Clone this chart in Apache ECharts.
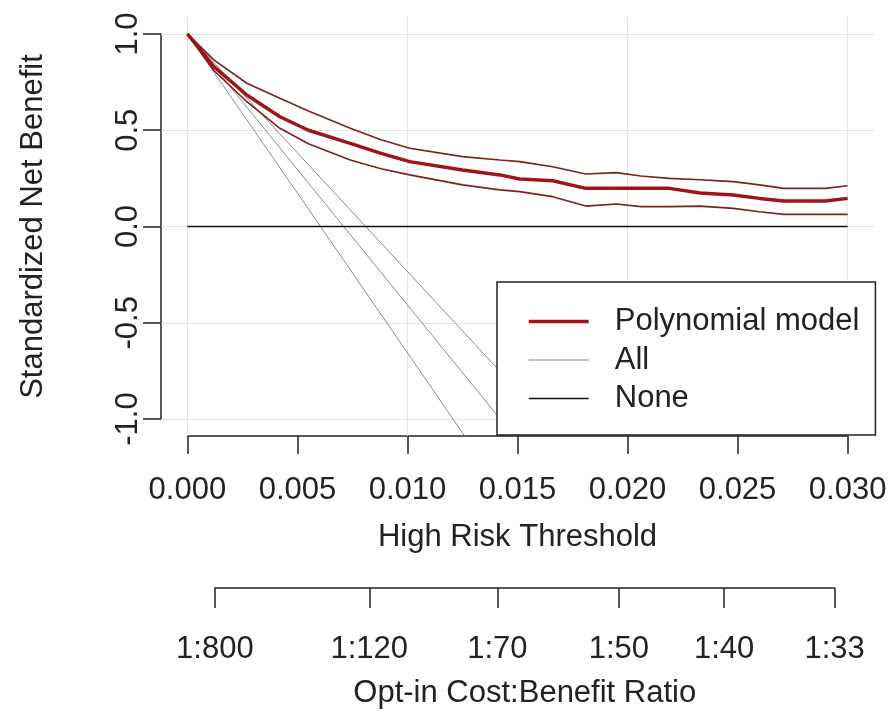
<!DOCTYPE html>
<html>
<head>
<meta charset="utf-8">
<script src="https://cdn.jsdelivr.net/npm/echarts@6/dist/echarts.min.js"></script>
<style>
  html, body { margin: 0; padding: 0; background: #fff; }
  #chart { width: 891px; height: 713px; }
</style>
</head>
<body>
<div id="chart"></div>
<script>
// high risk thresholds where the model curves were read
var thresholds = [0, 0.0012, 0.0027, 0.0042, 0.0055, 0.0074, 0.0088, 0.0101, 0.0125, 0.0142, 0.0151,
  0.0166, 0.0181, 0.0195, 0.0206, 0.0219, 0.0233, 0.0248, 0.0260, 0.0271, 0.0290, 0.0300];
// polynomial model: standardized net benefit + CI
var polyNB = [1.0, 0.83, 0.683, 0.57, 0.50, 0.432, 0.38, 0.337, 0.293, 0.268, 0.247,
  0.238, 0.198, 0.198, 0.198, 0.198, 0.174, 0.164, 0.146, 0.132, 0.132, 0.146];
var polyUpper = [1.0, 0.865, 0.744, 0.666, 0.60, 0.51, 0.45, 0.406, 0.363, 0.345, 0.337,
  0.31, 0.273, 0.28, 0.262, 0.25, 0.243, 0.233, 0.216, 0.198, 0.198, 0.212];
var polyLower = [1.0, 0.81, 0.648, 0.51, 0.43, 0.345, 0.30, 0.268, 0.216, 0.19, 0.181,
  0.155, 0.106, 0.117, 0.103, 0.103, 0.106, 0.094, 0.077, 0.063, 0.063, 0.063];

// treat all (estimate + CI), straight lines
var allLowX = [0, 0.00605, 0.0126];
var allLowY = [1, 0, -1.088];
var allMidX = [0, 0.0071, 0.0145];
var allMidY = [1, 0, -1.04];
var allUpX = [0, 0.0081, 0.0150];
var allUpY = [1, 0, -0.85];

// treat none
var noneX = [0, 0.03];
var noneY = [0, 0];

// axis ticks
var xTicks = [0, 0.005, 0.010, 0.015, 0.020, 0.025, 0.030];
var yTicks = [-1, -0.5, 0, 0.5, 1];
var ratioN = [800, 120, 70, 50, 40, 33];
var ratioLabels = ['1:800', '1:120', '1:70', '1:50', '1:40', '1:33'];
var ratioX = ratioN.map(function (n) { return 1 / (n + 1); });

var X_MIN = -0.0012, X_MAX = 0.0312, Y_MIN = -1.088, Y_MAX = 1.088;
var PLOT = { left: 161, top: 17, width: 713, height: 419 };
function xpx(v) { return PLOT.left + (v - X_MIN) / (X_MAX - X_MIN) * PLOT.width; }
function ypx(v) { return PLOT.top + (Y_MAX - v) / (Y_MAX - Y_MIN) * PLOT.height; }

var FONT = 'Liberation Sans, Arial, sans-serif';
var TXT = '#222';
var FS = 31;

function pairs(xs, ys) {
  return xs.map(function (x, i) { return [x, ys[i]]; });
}

var chart = echarts.init(document.getElementById('chart'));

var axisLineStyle = { color: TXT, width: 1.5 };

var option = {
  animation: false,
  backgroundColor: '#fff',
  textStyle: { fontFamily: FONT, color: TXT },
  grid: [
    // plot region (data)
    { left: PLOT.left, top: PLOT.top, width: PLOT.width, height: PLOT.height },
    // main axes
    { left: xpx(0), top: ypx(1), width: xpx(0.03) - xpx(0), height: ypx(-1) - ypx(1) },
    // cost:benefit axis
    { left: xpx(ratioX[0]), top: 500, width: xpx(ratioX[ratioX.length - 1]) - xpx(ratioX[0]), height: 88 }
  ],
  xAxis: [
    { gridIndex: 0, type: 'value', min: X_MIN, max: X_MAX, show: false },
    {
      gridIndex: 1, type: 'value', min: 0, max: 0.03, interval: 0.005, position: 'bottom',
      offset: PLOT.top + PLOT.height - ypx(-1),
      axisLine: { show: true, onZero: false, lineStyle: axisLineStyle },
      axisTick: { show: true, length: 18, lineStyle: axisLineStyle },
      axisLabel: { margin: 39, fontSize: FS, color: TXT, fontFamily: FONT,
        formatter: function (v) { return v.toFixed(3); } },
      splitLine: { show: false },
      name: 'High Risk Threshold', nameLocation: 'middle', nameGap: 86,
      nameTextStyle: { fontSize: FS, color: TXT, fontFamily: FONT }
    },
    {
      gridIndex: 2, type: 'value', min: ratioX[0], max: ratioX[ratioX.length - 1], position: 'bottom',
      axisLine: { show: true, onZero: false, lineStyle: axisLineStyle },
      axisTick: { show: true, length: 20, customValues: ratioX, lineStyle: axisLineStyle },
      axisLabel: { margin: 46, fontSize: FS, color: TXT, fontFamily: FONT, customValues: ratioX,
        formatter: function (v) {
          var best = 0;
          ratioX.forEach(function (r, i) { if (Math.abs(r - v) < Math.abs(ratioX[best] - v)) best = i; });
          return ratioLabels[best];
        } },
      splitLine: { show: false },
      name: 'Opt-in Cost:Benefit Ratio', nameLocation: 'middle', nameGap: 90,
      nameTextStyle: { fontSize: FS, color: TXT, fontFamily: FONT }
    }
  ],
  yAxis: [
    { gridIndex: 0, type: 'value', min: Y_MIN, max: Y_MAX, show: false },
    {
      gridIndex: 1, type: 'value', min: -1, max: 1, interval: 0.5, position: 'left',
      offset: xpx(0) - PLOT.left,
      axisLine: { show: true, onZero: false, lineStyle: axisLineStyle },
      axisTick: { show: true, length: 18, lineStyle: axisLineStyle },
      axisLabel: { margin: 17, rotate: 90, fontSize: FS, color: TXT, fontFamily: FONT,
        formatter: function (v) { return v.toFixed(1); } },
      splitLine: { show: false },
      name: 'Standardized Net Benefit', nameLocation: 'middle', nameGap: 112, nameRotate: 90,
      nameTextStyle: { fontSize: FS, color: TXT, fontFamily: FONT }
    },
    { gridIndex: 2, type: 'value', show: false }
  ],
  legend: {
    data: ['Polynomial model', 'All', 'None'],
    orient: 'vertical',
    left: 497, top: 282,
    padding: [24, 16, 21, 30],
    itemWidth: 60, itemHeight: 14, itemGap: 7.5,
    backgroundColor: '#fff',
    borderColor: TXT, borderWidth: 1.5, borderRadius: 0,
    selectedMode: false,
    itemStyle: { opacity: 0 },
    lineStyle: { width: 'inherit' },
    formatter: function (name) { return '{s|}' + name; },
    textStyle: { fontSize: FS, color: TXT, fontFamily: FONT,
      rich: { s: { width: 21 } } }
  },
  series: [
    {
      name: 'grid', type: 'line', xAxisIndex: 0, yAxisIndex: 0, data: [], silent: true, z: 1,
      markLine: {
        z: 1, silent: true, symbol: 'none', label: { show: false },
        lineStyle: { color: '#e4e4e4', width: 1, type: 'solid' },
        data: xTicks.map(function (t) { return { xAxis: t }; })
          .concat(yTicks.map(function (t) { return { yAxis: t }; }))
      }
    },
    {
      name: 'All CI low', type: 'line', xAxisIndex: 0, yAxisIndex: 0, symbol: 'none', z: 2,
      lineStyle: { color: '#8a8a8a', width: 1 }, data: pairs(allLowX, allLowY)
    },
    {
      name: 'All', type: 'line', xAxisIndex: 0, yAxisIndex: 0, symbol: 'none', z: 2,
      itemStyle: { color: '#8a8a8a' },
      lineStyle: { color: '#8a8a8a', width: 1 }, data: pairs(allMidX, allMidY)
    },
    {
      name: 'All CI up', type: 'line', xAxisIndex: 0, yAxisIndex: 0, symbol: 'none', z: 2,
      lineStyle: { color: '#8a8a8a', width: 1 }, data: pairs(allUpX, allUpY)
    },
    {
      name: 'None', type: 'line', xAxisIndex: 0, yAxisIndex: 0, symbol: 'none', z: 2,
      itemStyle: { color: '#111' },
      lineStyle: { color: '#111', width: 1.5 }, data: pairs(noneX, noneY)
    },
    {
      name: 'Polynomial upper', type: 'line', xAxisIndex: 0, yAxisIndex: 0, symbol: 'none', z: 3,
      lineStyle: { color: '#7e2020', width: 1.6 }, data: pairs(thresholds, polyUpper)
    },
    {
      name: 'Polynomial lower', type: 'line', xAxisIndex: 0, yAxisIndex: 0, symbol: 'none', z: 3,
      lineStyle: { color: '#7e2020', width: 1.6 }, data: pairs(thresholds, polyLower)
    },
    {
      name: 'Polynomial model', type: 'line', xAxisIndex: 0, yAxisIndex: 0, symbol: 'none', z: 4,
      itemStyle: { color: '#a01418' },
      lineStyle: { color: '#a01418', width: 3.5 }, data: pairs(thresholds, polyNB)
    }
  ]
};

chart.setOption(option);
</script>
</body>
</html>
